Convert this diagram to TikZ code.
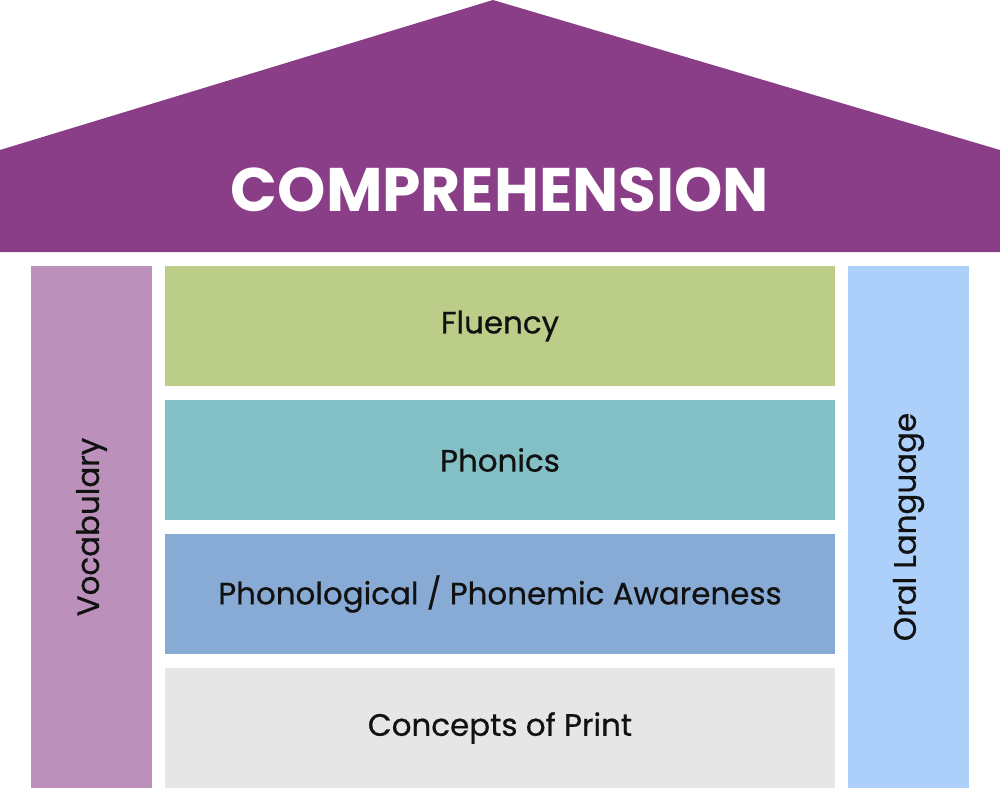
\documentclass[tikz,border=0pt]{standalone}
\usepackage{fontspec}
\setmainfont{Poppins}
\newfontfamily\labelfont{Poppins}[FakeBold=0.6]
\usetikzlibrary{positioning,calc}
\definecolor{roofpurple}{HTML}{8A3E87}
\definecolor{vocabcol}{HTML}{BB91BB}
\definecolor{oralcol}{HTML}{ADD0FB}
\definecolor{fluencycol}{HTML}{BCCD8A}
\definecolor{phonicscol}{HTML}{83C0C6}
\definecolor{phonocol}{HTML}{88ABD6}
\definecolor{printcol}{HTML}{E6E6E6}
\definecolor{labeltext}{HTML}{111111}

\begin{document}
\begin{tikzpicture}[x=0.02cm, y=-0.02cm,
    layer/.style={rectangle, inner sep=0pt, minimum width=13.4cm, minimum height=2.4cm, font=\labelfont\fontsize{17.6}{20}\selectfont, text=labeltext},
    pillar/.style={rectangle, inner sep=0pt, minimum width=2.42cm, minimum height=10.44cm}]
    \useasboundingbox (0,0) rectangle (1000,788);

    % Roof
    \fill[roofpurple] (0,150) -- (493,0) -- (1000,150) -- (1000,252) -- (0,252) -- cycle;
    \node[text=white, font=\fontsize{35}{38}\selectfont\bfseries] (roof) at (500,190) {COMPREHENSION};

    % Side pillars
    \node[pillar, fill=vocabcol] (vocab) at (91.5,527) {};
    \node[rotate=90, font=\labelfont\fontsize{17.6}{20}\selectfont, text=labeltext] (vocabtxt) at (vocab.center) {Vocabulary};
    \node[pillar, fill=oralcol] (oral) at (908.5,527) {};
    \node[rotate=90, font=\labelfont\fontsize{17.6}{20}\selectfont, text=labeltext] (oraltxt) at (oral.center) {Oral Language};

    % Layers
    \node[layer, fill=fluencycol] (fluency) at (500,326) {Fluency};
    \node[layer, fill=phonicscol] (phonics) at (500,460) {Phonics};
    \node[layer, fill=phonocol] (phono) at (500,594) {Phonological / Phonemic Awareness};
    \node[layer, fill=printcol] (print) at (500,728) {Concepts of Print};

\end{tikzpicture}
\end{document}
